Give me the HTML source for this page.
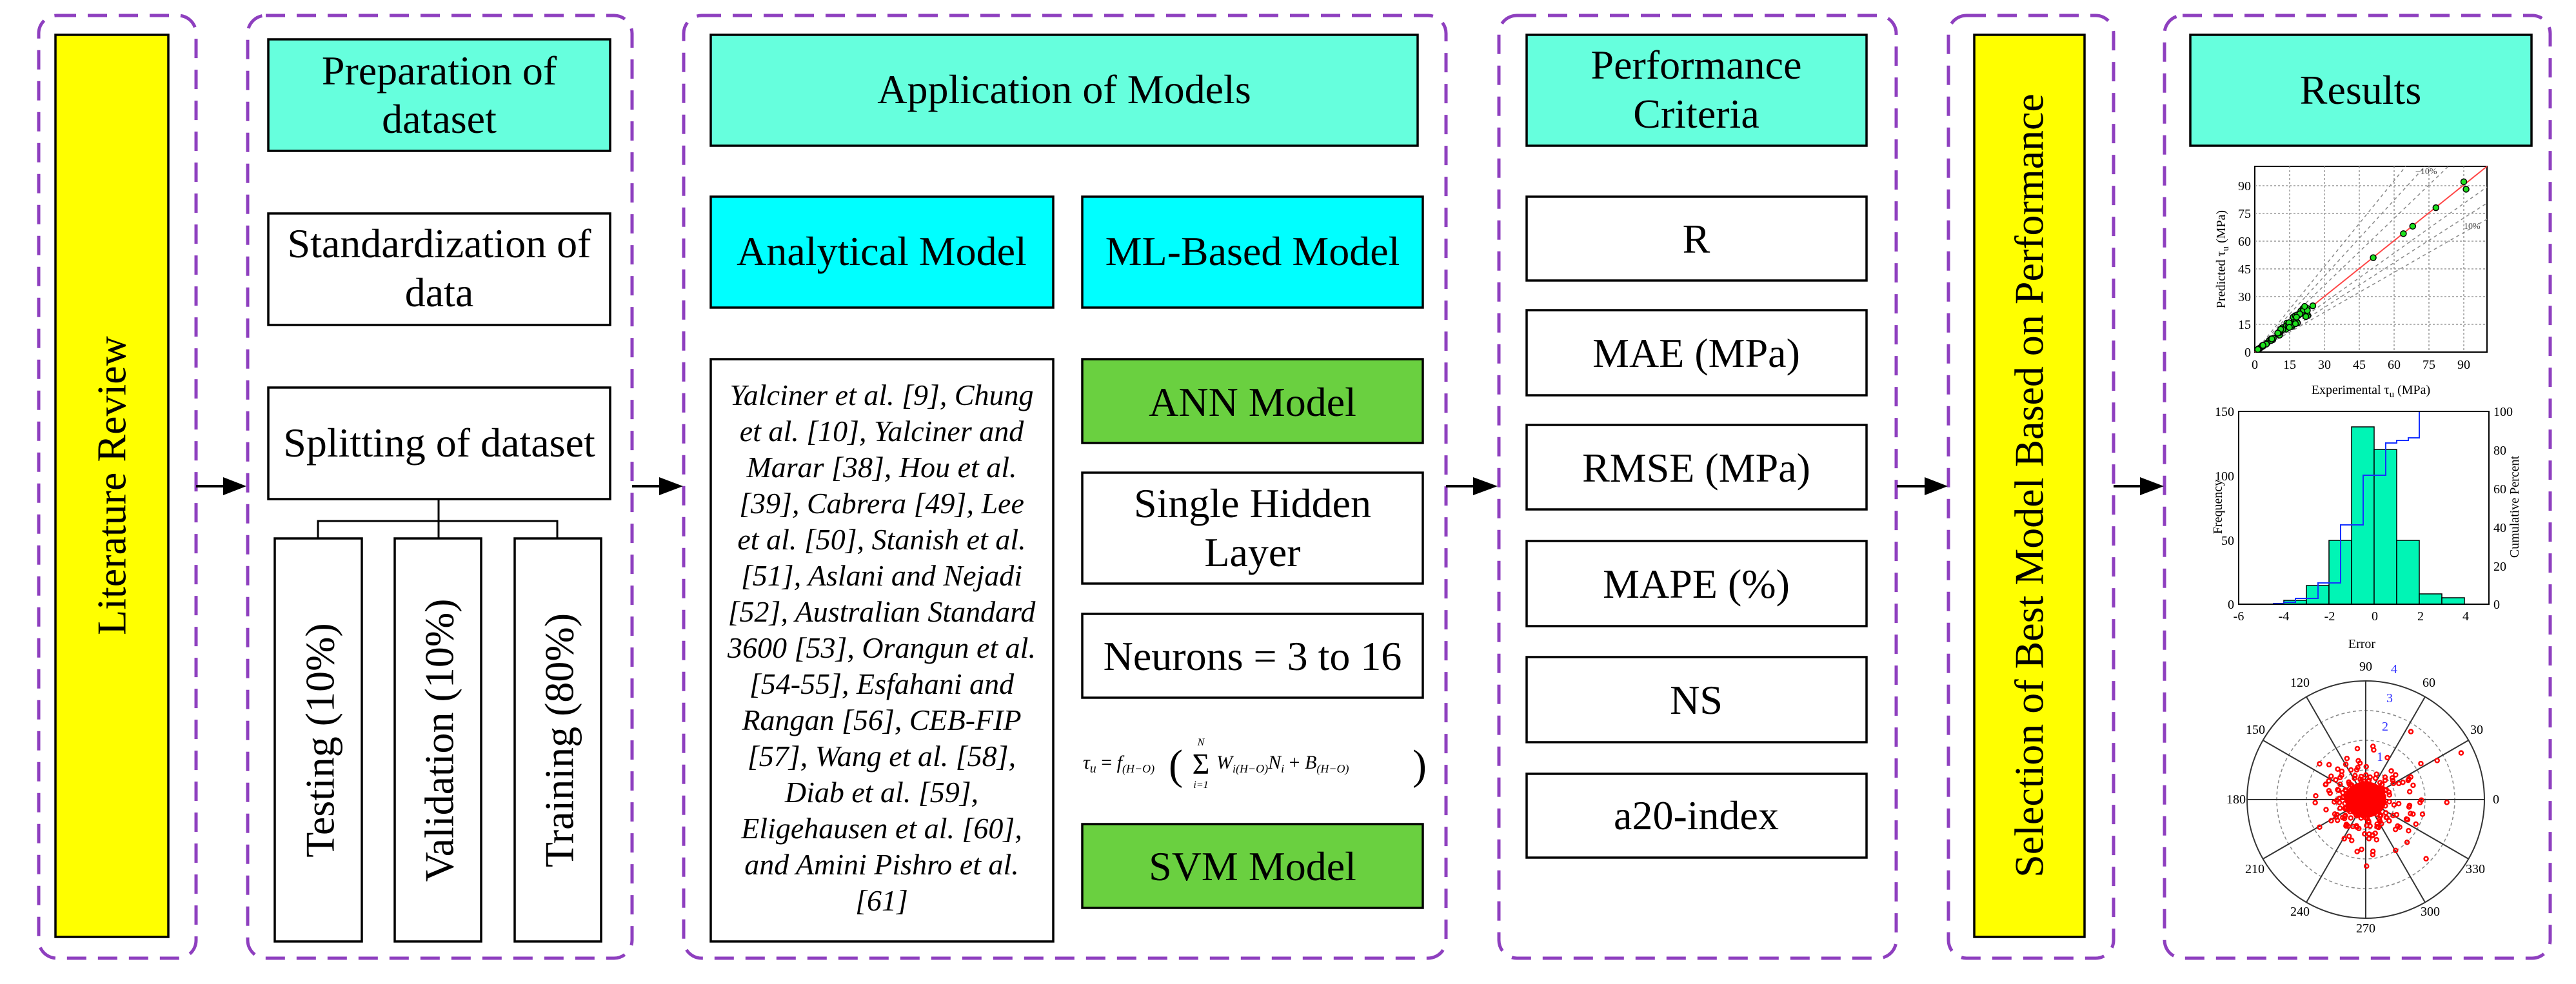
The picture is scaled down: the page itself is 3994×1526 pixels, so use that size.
<!DOCTYPE html>
<html><head><meta charset="utf-8"><style>
html,body{margin:0;padding:0;background:#fff}
svg{display:block}
svg, svg text{font-family:"Liberation Serif","Times New Roman",serif !important}
</style></head><body>
<svg id="s" width="3994" height="1526" viewBox="0 0 3994 1526" xmlns="http://www.w3.org/2000/svg" font-family="Liberation Serif, serif">
<g fill="none" stroke="#8e3fbf" stroke-width="5" stroke-dasharray="30 18">
<rect x="60" y="24" width="244" height="1462" rx="28"/>
<rect x="384" y="24" width="596" height="1462" rx="28"/>
<rect x="1060" y="24" width="1182" height="1462" rx="28"/>
<rect x="2324" y="24" width="616" height="1462" rx="28"/>
<rect x="3021" y="24" width="256" height="1462" rx="28"/>
<rect x="3356" y="24" width="598" height="1462" rx="28"/>
</g>
<g stroke="#000" stroke-width="4">
<line x1="304" y1="754" x2="350" y2="754"/>
<line x1="980" y1="754" x2="1026" y2="754"/>
<line x1="2242" y1="754" x2="2288" y2="754"/>
<line x1="2941" y1="754" x2="2988" y2="754"/>
<line x1="3277" y1="754" x2="3322" y2="754"/>
</g>
<g fill="#000">
<polygon points="346,740 382,754 346,768"/>
<polygon points="1022,740 1059,754 1022,768"/>
<polygon points="2284,740 2322,754 2284,768"/>
<polygon points="2984,740 3020,754 2984,768"/>
<polygon points="3318,740 3355,754 3318,768"/>
</g>
<g stroke="#000" stroke-width="3.5">
<rect x="86" y="54" width="175" height="1399" fill="#ffff00"/>
<rect x="416" y="61" width="530" height="173" fill="#66ffdd"/>
<rect x="416" y="331" width="530" height="173" fill="#fff"/>
<rect x="416" y="601" width="530" height="173" fill="#fff"/>
<rect x="426" y="835" width="135" height="625" fill="#fff"/>
<rect x="612" y="835" width="134" height="625" fill="#fff"/>
<rect x="798" y="835" width="134" height="625" fill="#fff"/>
<rect x="1102" y="54" width="1096" height="172" fill="#66ffdd"/>
<rect x="1102" y="305" width="531" height="172" fill="#00ffff"/>
<rect x="1678" y="305" width="528" height="172" fill="#00ffff"/>
<rect x="1102" y="557" width="531" height="903" fill="#fff"/>
<rect x="1678" y="557" width="528" height="130" fill="#6ad040"/>
<rect x="1678" y="733" width="528" height="172" fill="#fff"/>
<rect x="1678" y="952" width="528" height="130" fill="#fff"/>
<rect x="1678" y="1278" width="528" height="130" fill="#6ad040"/>
<rect x="2367" y="54" width="527" height="172" fill="#66ffdd"/>
<rect x="2367" y="305" width="527" height="130" fill="#fff"/>
<rect x="2367" y="481" width="527" height="132" fill="#fff"/>
<rect x="2367" y="659" width="527" height="131" fill="#fff"/>
<rect x="2367" y="839" width="527" height="132" fill="#fff"/>
<rect x="2367" y="1019" width="527" height="132" fill="#fff"/>
<rect x="2367" y="1200" width="527" height="130" fill="#fff"/>
<rect x="3061" y="54" width="171" height="1399" fill="#ffff00"/>
<rect x="3396" y="54" width="529" height="172" fill="#66ffdd"/>
</g>
<g fill="none" stroke="#000" stroke-width="3">
<polyline points="680,774 680,835"/>
<polyline points="493,835 493,808 864,808 864,835"/>
</g>
<g font-size="64" text-anchor="middle" font-family="Liberation Serif, serif">
<text transform="translate(173,753) rotate(-90)" dominant-baseline="central">Literature Review</text>
<text transform="translate(3146,753) rotate(-90)" dominant-baseline="central">Selection of Best Model Based on Performance</text>
<text transform="translate(496,1148) rotate(-90)" dominant-baseline="central">Testing (10%)</text>
<text transform="translate(681,1148) rotate(-90)" dominant-baseline="central">Validation (10%)</text>
<text transform="translate(867,1148) rotate(-90)" dominant-baseline="central">Training (80%)</text>
<text x="681" y="131">Preparation of</text>
<text x="681" y="206">dataset</text>
<text x="681" y="399">Standardization of</text>
<text x="681" y="475">data</text>
<text x="681" y="708">Splitting of dataset</text>
<text x="1650" y="160">Application of Models</text>
<text x="1367" y="411">Analytical Model</text>
<text x="1942" y="411">ML-Based Model</text>
<text x="1942" y="645">ANN Model</text>
<text x="1942" y="802">Single Hidden</text>
<text x="1942" y="878">Layer</text>
<text x="1942" y="1039">Neurons = 3 to 16</text>
<text x="1942" y="1365">SVM Model</text>
<text x="2630" y="122">Performance</text>
<text x="2630" y="198">Criteria</text>
<text x="2630" y="392">R</text>
<text x="2630" y="569">MAE (MPa)</text>
<text x="2630" y="747">RMSE (MPa)</text>
<text x="2630" y="927">MAPE (%)</text>
<text x="2630" y="1107">NS</text>
<text x="2630" y="1286">a20-index</text>
<text x="3660" y="161">Results</text>
</g>
<g font-size="46" font-style="italic" text-anchor="middle" font-family="Liberation Serif, serif">
<text x="1367" y="628">Yalciner et al. [9], Chung</text>
<text x="1367" y="684">et al. [10], Yalciner and</text>
<text x="1367" y="740">Marar [38], Hou et al.</text>
<text x="1367" y="796">[39], Cabrera [49], Lee</text>
<text x="1367" y="852">et al. [50], Stanish et al.</text>
<text x="1367" y="908">[51], Aslani and Nejadi</text>
<text x="1367" y="964">[52], Australian Standard</text>
<text x="1367" y="1020">3600 [53], Orangun et al.</text>
<text x="1367" y="1076">[54-55], Esfahani and</text>
<text x="1367" y="1132">Rangan [56], CEB-FIP</text>
<text x="1367" y="1188">[57], Wang et al. [58],</text>
<text x="1367" y="1244">Diab et al. [59],</text>
<text x="1367" y="1300">Eligehausen et al. [60],</text>
<text x="1367" y="1356">and Amini Pishro et al.</text>
<text x="1367" y="1412">[61]</text>
</g>
<g font-style="italic" font-family="Liberation Serif, serif">
<text x="1679" y="1192" font-size="30">τ<tspan font-size="20" dy="6">u</tspan><tspan dy="-6" font-style="normal"> = </tspan>f<tspan font-size="18" dy="6">(H−O)</tspan></text>
<text x="1812" y="1208" font-size="66" font-style="normal">(</text>
<text x="1862" y="1200" font-size="46" font-style="normal" text-anchor="middle">Σ</text>
<text x="1862" y="1156" font-size="16" text-anchor="middle">N</text>
<text x="1862" y="1222" font-size="16" text-anchor="middle">i=1</text>
<text x="1886" y="1192" font-size="30">W<tspan font-size="18" dy="6">i(H−O)</tspan><tspan dy="-6">N</tspan><tspan font-size="18" dy="6">i</tspan><tspan dy="-6" font-style="normal"> + </tspan>B<tspan font-size="18" dy="6">(H−O)</tspan></text>
<text x="2190" y="1208" font-size="66" font-style="normal">)</text>
</g>
<g id="sc" font-family="Liberation Serif, serif">
<rect x="3496" y="258" width="360" height="288" fill="#fff" stroke="#000" stroke-width="2"/>
<g stroke="#999" stroke-width="1.5" stroke-dasharray="3 3">
<line x1="3550" y1="258" x2="3550" y2="546"/><line x1="3604" y1="258" x2="3604" y2="546"/><line x1="3658" y1="258" x2="3658" y2="546"/><line x1="3712" y1="258" x2="3712" y2="546"/><line x1="3766" y1="258" x2="3766" y2="546"/><line x1="3820" y1="258" x2="3820" y2="546"/>
<line x1="3496" y1="503" x2="3856" y2="503"/><line x1="3496" y1="460" x2="3856" y2="460"/><line x1="3496" y1="417" x2="3856" y2="417"/><line x1="3496" y1="374" x2="3856" y2="374"/><line x1="3496" y1="331" x2="3856" y2="331"/><line x1="3496" y1="288" x2="3856" y2="288"/>
</g>
<g stroke="#888" stroke-width="1.5" stroke-dasharray="5 5">
<line x1="3496" y1="546" x2="3796" y2="258"/><line x1="3496" y1="546" x2="3760" y2="258"/><line x1="3496" y1="546" x2="3730" y2="258"/>
<line x1="3496" y1="546" x2="3856" y2="315"/><line x1="3496" y1="546" x2="3856" y2="290"/><line x1="3496" y1="546" x2="3856" y2="340"/>
</g>
<line x1="3496" y1="546" x2="3856" y2="258" stroke="#f44" stroke-width="2"/>
<g font-size="14" fill="#444"><text x="3745" y="270">−10%</text><text x="3820" y="355">10%</text></g>
<g font-size="20" text-anchor="end">
<text x="3490" y="553">0</text><text x="3490" y="510">15</text><text x="3490" y="467">30</text><text x="3490" y="424">45</text><text x="3490" y="381">60</text><text x="3490" y="338">75</text><text x="3490" y="295">90</text>
</g>
<g font-size="20" text-anchor="middle">
<text x="3496" y="572">0</text><text x="3550" y="572">15</text><text x="3604" y="572">30</text><text x="3658" y="572">45</text><text x="3712" y="572">60</text><text x="3766" y="572">75</text><text x="3820" y="572">90</text>
<text x="3676" y="611">Experimental τ<tspan font-size="15" dy="5">u</tspan><tspan dy="-5"> (MPa)</tspan></text>
<text transform="translate(3450,402) rotate(-90)">Predicted τ<tspan font-size="15" dy="5">u</tspan><tspan dy="-5"> (MPa)</tspan></text>
</g>
</g>
<g id="hist" font-family="Liberation Serif, serif">
<g fill="#00f5b5" stroke="#000" stroke-width="1.5">
<rect x="3541" y="931" width="35" height="6"/>
<rect x="3576" y="908" width="35" height="29"/>
<rect x="3611" y="838" width="35" height="99"/>
<rect x="3646" y="662" width="35" height="275"/>
<rect x="3681" y="697" width="35" height="240"/>
<rect x="3716" y="838" width="35" height="99"/>
<rect x="3751" y="921" width="35" height="16"/>
<rect x="3786" y="927" width="35" height="10"/>
</g>
<polyline fill="none" stroke="#1530ff" stroke-width="2" points="3524,936 3541,936 3541,934 3559,934 3559,928 3594,928 3594,904 3629,904 3629,814 3664,814 3664,737 3699,737 3699,687 3716,687 3716,683 3734,683 3734,679 3751,679 3751,638"/>
<rect x="3471" y="638" width="388" height="299" fill="none" stroke="#000" stroke-width="2"/>
<g font-size="20" text-anchor="end"><text x="3464" y="944">0</text><text x="3464" y="845">50</text><text x="3464" y="745">100</text><text x="3464" y="645">150</text></g>
<g font-size="20"><text x="3866" y="944">0</text><text x="3866" y="885">20</text><text x="3866" y="825">40</text><text x="3866" y="765">60</text><text x="3866" y="705">80</text><text x="3866" y="645">100</text></g>
<g font-size="20" text-anchor="middle"><text x="3471" y="962">-6</text><text x="3541" y="962">-4</text><text x="3612" y="962">-2</text><text x="3682" y="962">0</text><text x="3753" y="962">2</text><text x="3823" y="962">4</text>
<text x="3662" y="1005">Error</text>
<text transform="translate(3445,786) rotate(-90)">Frequency</text>
<text transform="translate(3905,786) rotate(-90)">Cumulative Percent</text></g>
</g>
<g id="polar" font-family="Liberation Serif, serif">
<circle cx="3668" cy="1240" r="184" fill="#fff" stroke="#333" stroke-width="2"/>
<g fill="none" stroke="#888" stroke-width="1.5" stroke-dasharray="5 4">
<circle cx="3668" cy="1240" r="46"/><circle cx="3668" cy="1240" r="92"/><circle cx="3668" cy="1240" r="138"/>
</g>
<g stroke="#333" stroke-width="2" id="spokes"></g>
<g id="dots" fill="none" stroke="#f00" stroke-width="2.5"></g>
<ellipse cx="3668" cy="1240" rx="32" ry="28" fill="#f00"/>
<g font-size="20" text-anchor="middle">
<text x="3668" y="1040">90</text><text x="3766" y="1065">60</text><text x="3840" y="1138">30</text><text x="3870" y="1246">0</text>
<text x="3838" y="1354">330</text><text x="3768" y="1420">300</text><text x="3668" y="1446">270</text><text x="3566" y="1420">240</text>
<text x="3496" y="1354">210</text><text x="3467" y="1246">180</text><text x="3497" y="1138">150</text><text x="3566" y="1065">120</text>
</g>
<g font-size="20" fill="#33f" text-anchor="middle"><text x="3712" y="1044" fill="#33f">4</text><text x="3705" y="1089" fill="#33f">3</text><text x="3698" y="1133" fill="#33f">2</text><text x="3690" y="1180" fill="#33f">1</text></g>
</g>
<g id="pts"></g>
</svg>
<script>
(function(){
var ns="http://www.w3.org/2000/svg";
var sp=document.getElementById("spokes");
for(var a=0;a<360;a+=30){var r=a*Math.PI/180;var l=document.createElementNS(ns,"line");l.setAttribute("x1",3668);l.setAttribute("y1",1240);l.setAttribute("x2",3668+184*Math.cos(r));l.setAttribute("y2",1240-184*Math.sin(r));sp.appendChild(l);}
var seed=7;function rnd(){seed=(seed*16807)%2147483647;return seed/2147483647;}
var d=document.getElementById("dots");
for(var i=0;i<260;i++){var u=rnd(),v=rnd();var rr=Math.sqrt(-2*Math.log(u+1e-9))*38;if(rr>175)rr=175*rnd();var t=v*2*Math.PI;var c=document.createElementNS(ns,"circle");c.setAttribute("cx",3668+rr*Math.cos(t));c.setAttribute("cy",1240+rr*Math.sin(t)*0.9);c.setAttribute("r",3);d.appendChild(c);}
var p=document.getElementById("pts");
function pt(x,y){var c=document.createElementNS(ns,"circle");c.setAttribute("cx",3496+x*3.6);c.setAttribute("cy",546-y*2.87);c.setAttribute("r",4.5);c.setAttribute("fill","#1ee01e");c.setAttribute("stroke","#000");c.setAttribute("stroke-width","1.5");p.appendChild(c);}
for(var j=0;j<70;j++){var x=1+rnd()*22;pt(x,x*(0.85+rnd()*0.3));}
[[25,25],[51,51],[64,64],[68,68],[78,78],[90,92],[91,88]].forEach(function(q){pt(q[0],q[1]);});
})();
</script>
</body></html>
